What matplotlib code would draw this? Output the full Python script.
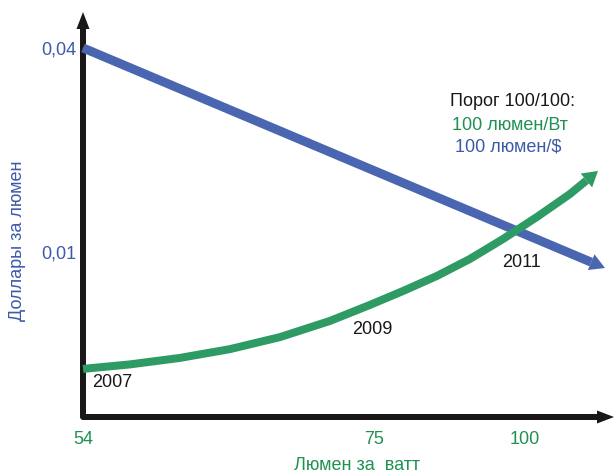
import numpy as np
import matplotlib
matplotlib.use("Agg")
import matplotlib.pyplot as plt
from matplotlib.lines import Line2D
from matplotlib.patches import Polygon
from matplotlib.transforms import IdentityTransform
from matplotlib.ticker import FixedLocator, NullLocator

plt.rcParams['font.family'] = ['Liberation Sans', 'DejaVu Sans']

# --- data -------------------------------------------------------------
x_ticks = [54, 75, 100]                 # lumens per watt
x_tick_labels = ["54", "75", "100"]
y_ticks = [0.04, 0.01]                  # dollars per lumen
y_tick_labels = ["0,04", "0,01"]

# price of light (dollars per lumen)
cost_lmw = [54, 75, 100, 113.25]
cost_usd = [0.040, 0.01738, 0.01128, 0.00897]

# efficacy growth 2007 -> 2011
eff_lmw = [54, 57.39, 61.00, 64.61, 68.22, 71.82, 74.71, 79.80,
           85.43, 90.89, 96.36, 101.99, 107.45, 112.09]
eff_usd = [0.00452, 0.00466, 0.00487, 0.00517, 0.00561, 0.00626, 0.00698,
           0.00767, 0.00850, 0.00954, 0.01092, 0.01269, 0.01483, 0.01734]

years = ["2007", "2009", "2011"]

# --- style ------------------------------------------------------------
BLUE = "#4A66B1"
BLUE_TXT = "#3D5AA9"
GREEN = "#2E9A64"
GREEN_TXT = "#1F9152"
BLACK = "#1A1718"

W, H, DPI = 616, 472, 100
fig = plt.figure(figsize=(W / DPI, H / DPI), dpi=DPI)

# axes frame in pixels (left, bottom-from-top, right, top-from-top)
L, B, R, T = 83, 417, 614, 12
ax = fig.add_axes([L / W, (H - B) / H, (R - L) / W, (B - T) / H])


# piecewise-linear horizontal scale
def fwd(x):
    x = np.asarray(x, float)
    return np.where(x < 75, (x - 54) * 13.857, 291 + (x - 75) * 6.04)


def inv(p):
    p = np.asarray(p, float)
    return np.where(p < 291, 54 + p / 13.857, 75 + (p - 291) / 6.04)


ax.set_xscale('function', functions=(fwd, inv))
ax.set_yscale('log')
ax.set_xlim(54, 114.74)
ax.set_ylim(0.00326, 0.05105)

for s in ax.spines.values():
    s.set_visible(False)
ax.patch.set_visible(False)

ax.xaxis.set_major_locator(FixedLocator(x_ticks))
ax.xaxis.set_minor_locator(NullLocator())
ax.set_xticklabels(x_tick_labels)
ax.yaxis.set_major_locator(FixedLocator(y_ticks))
ax.yaxis.set_minor_locator(NullLocator())
ax.set_yticklabels(y_tick_labels)
ax.tick_params(axis='x', length=0, pad=10, labelsize=13, labelcolor=GREEN_TXT)
ax.tick_params(axis='y', length=0, pad=5, labelsize=13, labelcolor=BLUE_TXT)


def arrow_line_disp(pts, color, lw_px, head_len, head_w, z):
    """Polyline in display pixels ending with a filled triangular head."""
    pts = np.asarray(pts, float)
    tip = pts[-1]
    d = tip - pts[-2]
    d = d / np.hypot(*d)
    n = np.array([-d[1], d[0]])
    base = tip - d * head_len
    keep = [p for p in pts[:-1] if np.dot(base - p, d) > 0]
    line = np.vstack(keep + [base])
    fig.add_artist(Line2D(line[:, 0], line[:, 1], transform=IdentityTransform(),
                          lw=lw_px * 72 / DPI, color=color, solid_capstyle='butt',
                          solid_joinstyle='round', zorder=z))
    fig.add_artist(Polygon([tip, base + n * head_w / 2, base - n * head_w / 2],
                           closed=True, transform=IdentityTransform(),
                           facecolor=color, edgecolor='none', zorder=z))


def arrow_series(xs, ys, color, lw_px, head_len, head_w, z):
    pts = ax.transData.transform(np.column_stack([xs, ys]))
    arrow_line_disp(pts, color, lw_px, head_len, head_w, z)


# axes drawn as arrows: up the vertical axis, along the horizontal axis
corner = ax.transAxes.transform((0, 0))
top = ax.transAxes.transform((0, 1))
right = ax.transAxes.transform((1, 0))
hl, hw = 17, 13
y_base = top - np.array([0, hl])
x_base = right - np.array([hl, 0])
fig.add_artist(Line2D([y_base[0], corner[0], x_base[0]],
                      [y_base[1], corner[1], x_base[1]],
                      transform=IdentityTransform(), lw=6 * 72 / DPI, color=BLACK,
                      solid_joinstyle='round', solid_capstyle='butt', zorder=3))
fig.add_artist(Polygon([top, y_base + [-hw / 2, 0], y_base + [hw / 2, 0]],
                       transform=IdentityTransform(), facecolor=BLACK,
                       edgecolor='none', zorder=3))
fig.add_artist(Polygon([right, x_base + [0, -hw / 2], x_base + [0, hw / 2]],
                       transform=IdentityTransform(), facecolor=BLACK,
                       edgecolor='none', zorder=3))

# series
arrow_series(cost_lmw, cost_usd, BLUE, 9, 15, 17, 4)
arrow_series(eff_lmw, eff_usd, GREEN, 8, 15, 18, 5)

# year markers along the efficacy curve
ax.text(54.65, 0.00411, years[0], ha='left', va='center', fontsize=13, color=BLACK)
ax.text(74.9, 0.00589, years[1], ha='center', va='center', fontsize=13, color=BLACK)
ax.text(99.5, 0.00928, years[2], ha='center', va='center', fontsize=13, color=BLACK)

# threshold note
fig.text(450 / W, 1 - 102 / H, "Порог 100/100:", ha='left', va='center',
         fontsize=13, color=BLACK)
fig.text(452 / W, 1 - 125 / H, "100 люмен/Вт", ha='left', va='center',
         fontsize=13, color=GREEN_TXT)
fig.text(455 / W, 1 - 147 / H, "100 люмен/$", ha='left', va='center',
         fontsize=13, color=BLUE_TXT)

# axis titles
fig.text(357 / W, 1 - 465 / H, "Люмен за  ватт", ha='center', va='center',
         fontsize=13, color=GREEN_TXT)
fig.text(18 / W, 1 - 241 / H, "Доллары за люмен", ha='center', va='center',
         rotation=90, fontsize=13, color=BLUE_TXT)

fig.savefig("out.png", dpi=DPI)
